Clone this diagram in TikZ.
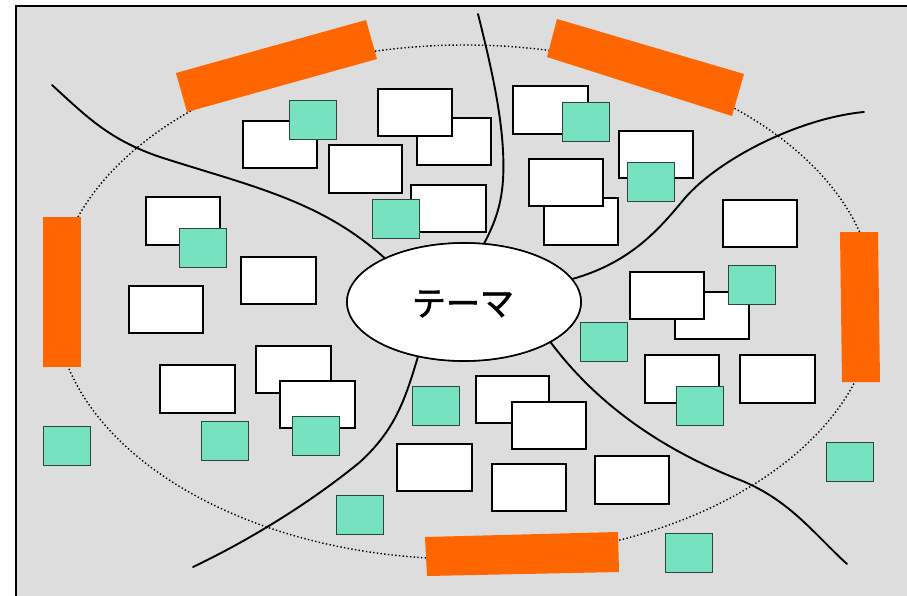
\documentclass[tikz,border=0pt]{standalone}
\usepackage{fontspec}
\newfontfamily\jpfont[FakeBold=1.6]{Noto Sans CJK JP}
\usetikzlibrary{shapes.geometric}
\definecolor{bggray}{RGB}{221,221,221}
\definecolor{barorange}{RGB}{255,102,0}
\definecolor{mint}{RGB}{118,226,192}
\definecolor{mintedge}{RGB}{45,70,62}
\tikzset{
  card/.style={draw=black, line width=1.8pt, fill=white, anchor=north west, inner sep=0pt, minimum width=74pt, minimum height=47pt},
  sticky/.style={draw=mintedge, line width=1.1pt, fill=mint, anchor=north west, inner sep=0pt, minimum width=47pt, minimum height=39pt},
  bar/.style={fill=barorange, draw=none},
  branch/.style={line width=1.9pt, line cap=round},
  rim/.style={line width=1.4pt, dash pattern=on 1.4pt off 2.3pt},
  themeshape/.style={ellipse, draw=black, line width=1.6pt, fill=white, inner sep=0pt, minimum width=234pt, minimum height=118pt}
}
\begin{document}
\begin{tikzpicture}[x=1pt, y=-1pt]
\useasboundingbox (0,0) rectangle (907,596);
% frame
\fill[bggray] (16,6) rectangle (907,596);
\draw[line width=2pt] (16,596) -- (16,6) -- (907,6);
% dotted ellipse
\draw[rim] (465,302) ellipse [x radius=410, y radius=257];
% theme node
\node[themeshape] (theme) at (464,302) {};
% branch end points
\coordinate (e1) at (52,85);
\coordinate (e2) at (478,14);
\coordinate (e3) at (864,112);
\coordinate (e4) at (847,564);
\coordinate (e5) at (193,567);
% branches
\draw[branch] (e1) .. controls (88,118) and (110,140) .. (160,157)
  .. controls (250,186) and (320,200) .. (theme.151);
\draw[branch] (e2) .. controls (492,70) and (506,130) .. (503,180)
  .. controls (501,210) and (492,228) .. (theme.71);
\draw[branch] (theme.12) .. controls (632,262) and (660,228) .. (685,198)
  .. controls (720,158) and (800,118) .. (e3);
\draw[branch] (theme.-25) .. controls (590,395) and (650,445) .. (740,480)
  .. controls (790,500) and (815,535) .. (e4);
\draw[branch] (theme.-130) .. controls (405,400) and (395,430) .. (360,462)
  .. controls (320,495) and (260,535) .. (e5);
% redraw theme on top of branch ends
\node[themeshape] (themetop) at (464,302) {};
\node[font=\jpfont\fontsize{34pt}{40pt}\selectfont] (themetext) at (463,304) {テーマ};
% orange bars
\fill[bar] (176,73) -- (366,20) -- (377,59) -- (187,112) -- cycle;
\fill[bar] (557,19) -- (744,74) -- (732,116) -- (547,57) -- cycle;
\fill[bar] (43,217) -- (81,217) -- (81,367) -- (43,367) -- cycle;
\fill[bar] (840,232) -- (878,232) -- (880,382) -- (842,382) -- cycle;
\fill[bar] (425,537) -- (618,532) -- (619,572) -- (427,576) -- cycle;
% white cards
\node[card] (cA) at (242,120) {};
\node[card] (cC) at (416,117) {};
\node[card] (cB) at (377,88) {};
\node[card, minimum width=73pt, minimum height=48pt] (cD) at (328,144) {};
\node[card, minimum width=75pt] (cE) at (410,184) {};
\node[card, minimum height=48pt] (cF) at (145,196) {};
\node[card, minimum width=75pt, minimum height=48pt] (cG) at (512,85) {};
\node[card] (cH) at (618,130) {};
\node[card] (cJ) at (543,197) {};
\node[card] (cI) at (528,158) {};
\node[card] (cK) at (722,199) {};
\node[card, minimum width=75pt] (cL) at (240,256) {};
\node[card] (cM) at (128,285) {};
\node[card, minimum width=75pt, minimum height=48pt] (cN) at (159,364) {};
\node[card, minimum width=75pt] (cO) at (255,345) {};
\node[card, minimum width=75pt] (cP) at (279,380) {};
\node[card, minimum width=73pt] (cQ) at (475,375) {};
\node[card] (cR) at (511,401) {};
\node[card, minimum width=75pt] (cS) at (396,443) {};
\node[card] (cT) at (491,463) {};
\node[card, minimum height=48pt] (cU2) at (594,455) {};
\node[card] (cV) at (674,291) {};
\node[card] (cU) at (629,271) {};
\node[card, minimum height=48pt] (cW) at (644,354) {};
\node[card, minimum width=75pt, minimum height=48pt] (cX) at (739,354) {};
% mint stickies
\node[sticky] (s1) at (289,100) {};
\node[sticky] (s2) at (372,199) {};
\node[sticky] (s3) at (179,228) {};
\node[sticky] (s4) at (562,102) {};
\node[sticky] (s5) at (627,162) {};
\node[sticky] (s6) at (292,416) {};
\node[sticky] (s7) at (201,421) {};
\node[sticky] (s8) at (412,386) {};
\node[sticky] (s9) at (728,265) {};
\node[sticky] (s10) at (580,322) {};
\node[sticky] (s11) at (676,386) {};
\node[sticky] (s12) at (826,442) {};
\node[sticky] (s13) at (43,426) {};
\node[sticky] (s14) at (665,533) {};
\node[sticky] (s15) at (336,495) {};
\end{tikzpicture}
\end{document}
